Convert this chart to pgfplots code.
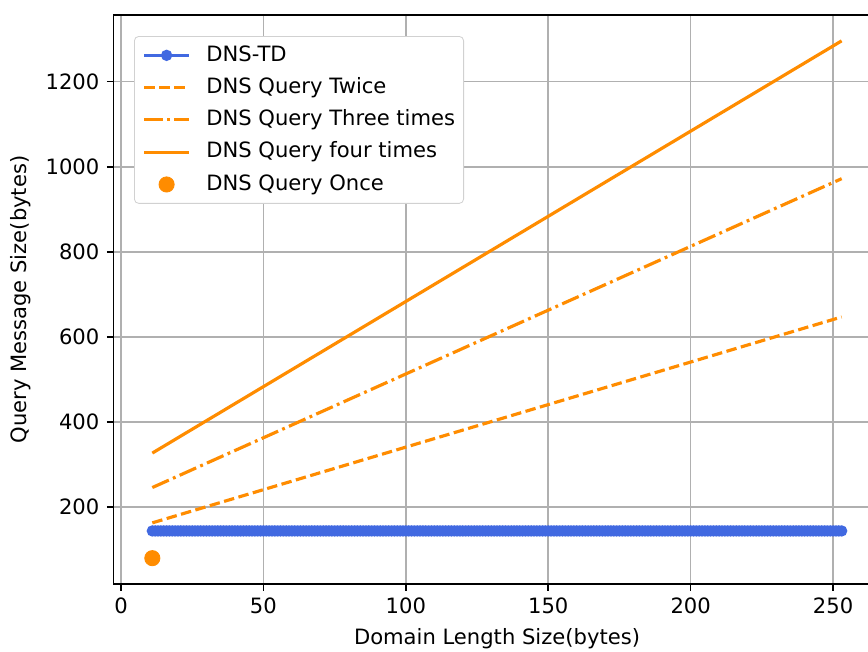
\documentclass[border=0pt]{standalone}
\usepackage{fontspec}
\setmainfont{DejaVu Sans}
\usepackage{pgfplots}
\pgfplotsset{compat=1.18}

\definecolor{tdblue}{RGB}{65,105,225}
\definecolor{qorange}{RGB}{255,140,0}
\definecolor{gridgray}{RGB}{176,176,176}

\pgfplotsset{
    once legend/.style={legend image code/.code={\draw[##1] plot coordinates {(10.5pt,0pt)};}},
}

\begin{document}
\begin{tikzpicture}
\begin{axis}[
    scale only axis,
    width=363.7pt, height=269.7pt,
    xmin=-2.7, xmax=266.7,
    ymin=19.2, ymax=1356.8,
    xtick={0,50,...,250},
    ytick={200,400,...,1200},
    tick align=outside,
    tick pos=left,
    major tick length=3.1pt,
    grid=major,
    grid style={gridgray, line width=0.75pt},
    axis line style={line width=0.75pt},
    tick style={black, line width=0.75pt},
    /pgf/number format/assume math mode=true,
    /pgf/number format/1000 sep={},
    tick label style={font=\fontsize{10}{12}\selectfont},
    label style={font=\fontsize{10}{12}\selectfont},
    xlabel={Domain Length Size(bytes)},
    ylabel={Query Message Size(bytes)},
    legend cell align=left,
    legend style={
        at={(0.027,0.963)}, anchor=north west,
        draw=black!18, rounded corners=2pt, fill=white,
        font=\fontsize{10}{12}\selectfont,
        inner xsep=4pt, inner ysep=4.2pt,
        row sep=5.8pt, column sep=7.6pt,
        nodes={inner xsep=0pt, inner ysep=0pt, text height=7.5pt, text depth=2pt},
    },
    legend image code/.code={\draw[mark repeat=2,mark phase=2,#1] plot coordinates {(0pt,0pt)(10.5pt,0pt)(21pt,0pt)};},
]
% DNS-TD: constant size, one mark per domain length
\addplot[tdblue, line width=1.5pt, mark=*, mark size=1.9pt, mark options={draw=none}] coordinates {
(11,144)(12,144)(13,144)(14,144)(15,144)(16,144)(17,144)(18,144)(19,144)(20,144)
(21,144)(22,144)(23,144)(24,144)(25,144)(26,144)(27,144)(28,144)(29,144)(30,144)
(31,144)(32,144)(33,144)(34,144)(35,144)(36,144)(37,144)(38,144)(39,144)(40,144)
(41,144)(42,144)(43,144)(44,144)(45,144)(46,144)(47,144)(48,144)(49,144)(50,144)
(51,144)(52,144)(53,144)(54,144)(55,144)(56,144)(57,144)(58,144)(59,144)(60,144)
(61,144)(62,144)(63,144)(64,144)(65,144)(66,144)(67,144)(68,144)(69,144)(70,144)
(71,144)(72,144)(73,144)(74,144)(75,144)(76,144)(77,144)(78,144)(79,144)(80,144)
(81,144)(82,144)(83,144)(84,144)(85,144)(86,144)(87,144)(88,144)(89,144)(90,144)
(91,144)(92,144)(93,144)(94,144)(95,144)(96,144)(97,144)(98,144)(99,144)(100,144)
(101,144)(102,144)(103,144)(104,144)(105,144)(106,144)(107,144)(108,144)(109,144)(110,144)
(111,144)(112,144)(113,144)(114,144)(115,144)(116,144)(117,144)(118,144)(119,144)(120,144)
(121,144)(122,144)(123,144)(124,144)(125,144)(126,144)(127,144)(128,144)(129,144)(130,144)
(131,144)(132,144)(133,144)(134,144)(135,144)(136,144)(137,144)(138,144)(139,144)(140,144)
(141,144)(142,144)(143,144)(144,144)(145,144)(146,144)(147,144)(148,144)(149,144)(150,144)
(151,144)(152,144)(153,144)(154,144)(155,144)(156,144)(157,144)(158,144)(159,144)(160,144)
(161,144)(162,144)(163,144)(164,144)(165,144)(166,144)(167,144)(168,144)(169,144)(170,144)
(171,144)(172,144)(173,144)(174,144)(175,144)(176,144)(177,144)(178,144)(179,144)(180,144)
(181,144)(182,144)(183,144)(184,144)(185,144)(186,144)(187,144)(188,144)(189,144)(190,144)
(191,144)(192,144)(193,144)(194,144)(195,144)(196,144)(197,144)(198,144)(199,144)(200,144)
(201,144)(202,144)(203,144)(204,144)(205,144)(206,144)(207,144)(208,144)(209,144)(210,144)
(211,144)(212,144)(213,144)(214,144)(215,144)(216,144)(217,144)(218,144)(219,144)(220,144)
(221,144)(222,144)(223,144)(224,144)(225,144)(226,144)(227,144)(228,144)(229,144)(230,144)
(231,144)(232,144)(233,144)(234,144)(235,144)(236,144)(237,144)(238,144)(239,144)(240,144)
(241,144)(242,144)(243,144)(244,144)(245,144)(246,144)(247,144)(248,144)(249,144)(250,144)
(251,144)(252,144)(253,144)
};
\addlegendentry{DNS-TD}
\addplot[qorange, line width=1.5pt, dash pattern=on 4.96pt off 2.14pt] coordinates {(11,163)(253,647)};
\addlegendentry{DNS Query Twice}
\addplot[qorange, line width=1.5pt, dash pattern=on 8.57pt off 2.14pt on 1.34pt off 2.14pt] coordinates {(11,246)(253,972)};
\addlegendentry{DNS Query Three times}
\addplot[qorange, line width=1.5pt] coordinates {(11,327)(253,1296)};
\addlegendentry{DNS Query four times}
\addplot[only marks, mark=*, qorange, mark size=3.6pt, mark options={draw=none}, once legend] coordinates {(11,80)};
\addlegendentry{DNS Query Once}
\end{axis}
\pgfresetboundingbox
\path[use as bounding box] ([xshift=-53.7pt,yshift=-32.2pt]current axis.south west) rectangle ([xshift=357.7pt,yshift=7.1pt]current axis.north west);
\end{tikzpicture}
\end{document}
